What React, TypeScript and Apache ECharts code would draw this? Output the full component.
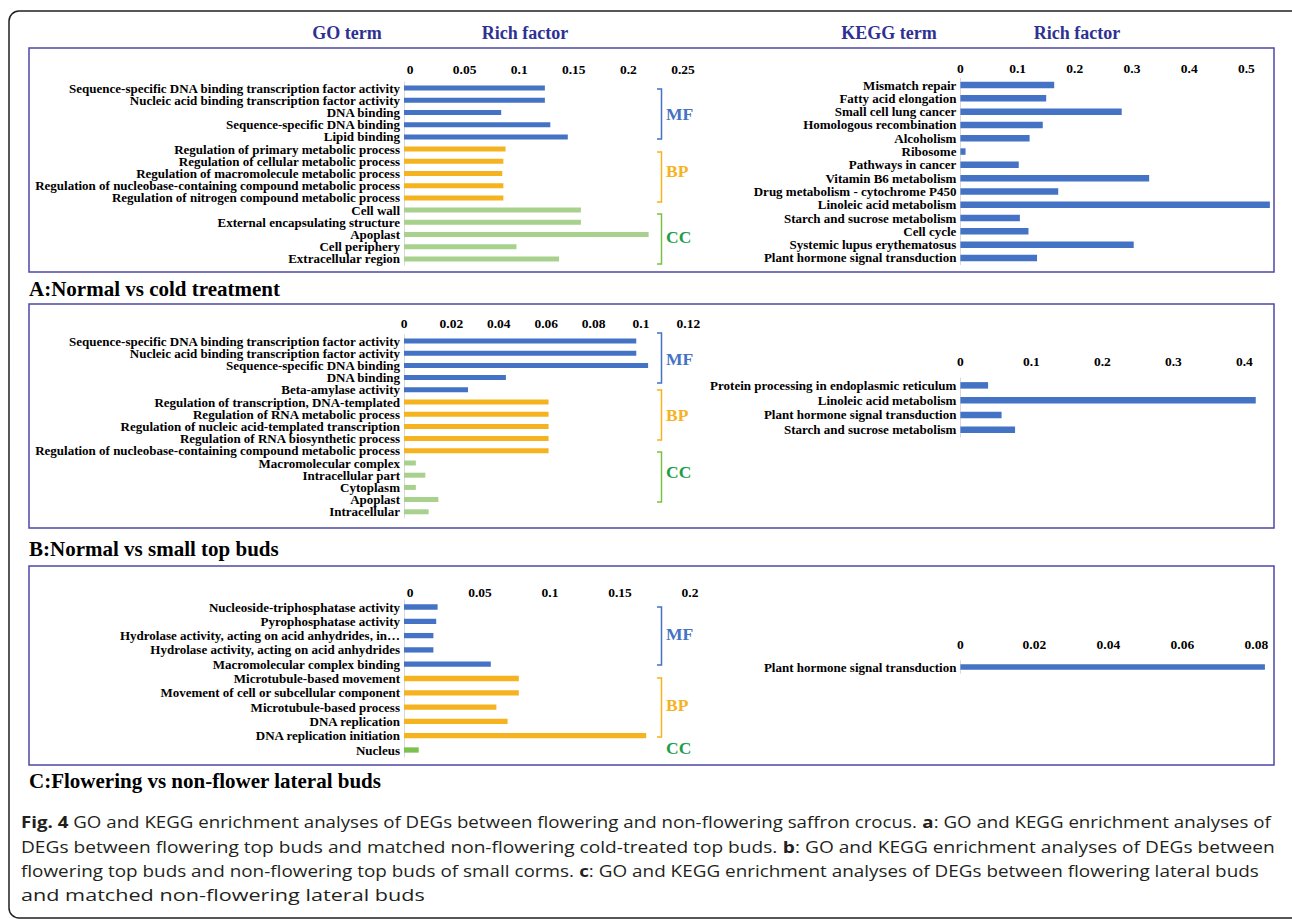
import React, { useEffect, useRef } from "react";
import * as echarts from "echarts";

const SERIF = '"Liberation Serif","Times New Roman",serif';
const SANS = '"Open Sans","Noto Sans",sans-serif';

// ---------------- DATA ----------------
// Panel A: Normal vs cold treatment
const goACategories = [
  "Sequence-specific DNA binding transcription factor activity",
  "Nucleic acid binding transcription factor activity",
  "DNA binding",
  "Sequence-specific DNA binding",
  "Lipid binding",
  "Regulation of primary metabolic process",
  "Regulation of cellular metabolic process",
  "Regulation of macromolecule metabolic process",
  "Regulation of nucleobase-containing compound metabolic process",
  "Regulation of nitrogen compound metabolic process",
  "Cell wall",
  "External encapsulating structure",
  "Apoplast",
  "Cell periphery",
  "Extracellular region",
];
const goAValues = [0.129, 0.129, 0.089, 0.134, 0.15, 0.093, 0.091, 0.09, 0.091, 0.091, 0.162, 0.162, 0.224, 0.103, 0.142];
const goAGroups = ["MF", "MF", "MF", "MF", "MF", "BP", "BP", "BP", "BP", "BP", "CC", "CC", "CC", "CC", "CC"];
const goATicks = [0, 0.05, 0.1, 0.15, 0.2, 0.25];

const keggACategories = [
  "Mismatch repair",
  "Fatty acid elongation",
  "Small cell lung cancer",
  "Homologous recombination",
  "Alcoholism",
  "Ribosome",
  "Pathways in cancer",
  "Vitamin B6 metabolism",
  "Drug metabolism - cytochrome P450",
  "Linoleic acid metabolism",
  "Starch and sucrose metabolism",
  "Cell cycle",
  "Systemic lupus erythematosus",
  "Plant hormone signal transduction",
];
const keggAValues = [0.164, 0.15, 0.282, 0.144, 0.121, 0.009, 0.102, 0.33, 0.171, 0.541, 0.104, 0.119, 0.303, 0.134];
const keggATicks = [0, 0.1, 0.2, 0.3, 0.4, 0.5];

// Panel B: Normal vs small top buds
const goBCategories = [
  "Sequence-specific DNA binding transcription factor activity",
  "Nucleic acid binding transcription factor activity",
  "Sequence-specific DNA binding",
  "DNA binding",
  "Beta-amylase activity",
  "Regulation of transcription, DNA-templated",
  "Regulation of RNA metabolic process",
  "Regulation of nucleic acid-templated transcription",
  "Regulation of RNA biosynthetic process",
  "Regulation of nucleobase-containing compound metabolic process",
  "Macromolecular complex",
  "Intracellular part",
  "Cytoplasm",
  "Apoplast",
  "Intracellular",
];
const goBValues = [0.098, 0.098, 0.103, 0.043, 0.027, 0.061, 0.061, 0.061, 0.061, 0.061, 0.005, 0.009, 0.005, 0.0145, 0.0104];
const goBGroups = ["MF", "MF", "MF", "MF", "MF", "BP", "BP", "BP", "BP", "BP", "CC", "CC", "CC", "CC", "CC"];
const goBTicks = [0, 0.02, 0.04, 0.06, 0.08, 0.1, 0.12];

const keggBCategories = [
  "Protein processing in endoplasmic reticulum",
  "Linoleic acid metabolism",
  "Plant hormone signal transduction",
  "Starch and sucrose metabolism",
];
const keggBValues = [0.039, 0.416, 0.058, 0.077];
const keggBTicks = [0, 0.1, 0.2, 0.3, 0.4];

// Panel C: Flowering vs non-flower lateral buds
const goCCategories = [
  "Nucleoside-triphosphatase activity",
  "Pyrophosphatase activity",
  "Hydrolase activity, acting on acid anhydrides, in…",
  "Hydrolase activity, acting on acid anhydrides",
  "Macromolecular complex binding",
  "Microtubule-based movement",
  "Movement of cell or subcellular component",
  "Microtubule-based process",
  "DNA replication",
  "DNA replication initiation",
  "Nucleus",
];
const goCValues = [0.024, 0.023, 0.021, 0.021, 0.062, 0.082, 0.082, 0.066, 0.074, 0.173, 0.0105];
const goCGroups = ["MF", "MF", "MF", "MF", "MF", "BP", "BP", "BP", "BP", "BP", "CC"];
const goCTicks = [0, 0.05, 0.1, 0.15, 0.2];

const keggCCategories = ["Plant hormone signal transduction"];
const keggCValues = [0.0823];
const keggCTicks = [0, 0.02, 0.04, 0.06, 0.08];

const panelTitles = [
  "A:Normal vs cold treatment",
  "B:Normal vs small top buds",
  "C:Flowering vs non-flower lateral buds",
];

const captionLines: [string, boolean][][] = [
  [
    ["Fig. 4", true],
    [" GO and KEGG enrichment analyses of DEGs between flowering and non-flowering saffron crocus. ", false],
    ["a", true],
    [": GO and KEGG enrichment analyses of", false],
  ],
  [
    ["DEGs between flowering top buds and matched non-flowering cold-treated top buds. ", false],
    ["b", true],
    [": GO and KEGG enrichment analyses of DEGs between", false],
  ],
  [
    ["flowering top buds and non-flowering top buds of small corms. ", false],
    ["c", true],
    [": GO and KEGG enrichment analyses of DEGs between flowering lateral buds", false],
  ],
  [["and matched non-flowering lateral buds", false]],
];

// ---------------- STYLE / LAYOUT ----------------
const BLUE = "#4472C4";
const GOLD = "#F5B31F";
const LGREEN = "#A9D18E";
const BRIGHT_GREEN = "#7CC150";
const NAVY = "#2E3192";
const BOX = "#4E48A5";

type Layout = {
  left: number; top: number; width: number; height: number; max: number;
  barWidth: number; margin: number; shift: number; lineHeight: number;
};
const LAYOUT: Record<string, Layout> = {
  goA: { left: 404, top: 82, width: 273, height: 183, max: 0.25, barWidth: 5, margin: 5.5, shift: 6, lineHeight: 12 },
  keggA: { left: 960.4, top: 78.4, width: 314.6, height: 186.2, max: 0.55, barWidth: 6.5, margin: 2.5, shift: 0, lineHeight: 13 },
  goB: { left: 404, top: 334.9, width: 284.4, height: 183, max: 0.12, barWidth: 5, margin: 4, shift: 0, lineHeight: 12 },
  keggB: { left: 960.4, top: 378, width: 305.3, height: 59, max: 0.43, barWidth: 6.5, margin: 9.5, shift: 0, lineHeight: 14 },
  goC: { left: 404, top: 599.85, width: 280, height: 157.3, max: 0.2, barWidth: 5.3, margin: 0, shift: 6, lineHeight: 14 },
  keggC: { left: 960.4, top: 660.7, width: 314.5, height: 12.6, max: 0.085, barWidth: 5.5, margin: 9, shift: 0, lineHeight: 12 },
};

function measure(text: string, font: string) {
  const ctx = document.createElement("canvas").getContext("2d")!;
  ctx.font = font;
  return ctx.measureText(text).width;
}

export default function App() {
  const ref = useRef<HTMLDivElement>(null);
  useEffect(() => {
    const chart = echarts.init(ref.current!, null, { renderer: "svg" });

    const panels = [
      { key: "goA", cats: goACategories, vals: goAValues, groups: goAGroups, ticks: goATicks, cc: LGREEN },
      { key: "keggA", cats: keggACategories, vals: keggAValues, groups: null, ticks: keggATicks, cc: LGREEN },
      { key: "goB", cats: goBCategories, vals: goBValues, groups: goBGroups, ticks: goBTicks, cc: LGREEN },
      { key: "keggB", cats: keggBCategories, vals: keggBValues, groups: null, ticks: keggBTicks, cc: LGREEN },
      { key: "goC", cats: goCCategories, vals: goCValues, groups: goCGroups, ticks: goCTicks, cc: BRIGHT_GREEN },
      { key: "keggC", cats: keggCCategories, vals: keggCValues, groups: null, ticks: keggCTicks, cc: LGREEN },
    ];

    const grid: any[] = [];
    const xAxis: any[] = [];
    const yAxis: any[] = [];
    const series: any[] = [];
    panels.forEach((p, i) => {
      const l = LAYOUT[p.key];
      grid.push({ left: l.left, top: l.top, width: l.width, height: l.height, containLabel: false, outerBoundsMode: "none" });
      const ticks = p.ticks;
      xAxis.push({
        gridIndex: i,
        type: "value",
        position: "top",
        min: 0,
        max: l.max,
        interval: ticks[1] - ticks[0],
        axisLine: { show: false },
        axisTick: { show: false },
        splitLine: { show: false },
        axisLabel: {
          margin: l.margin,
          fontFamily: SERIF,
          fontWeight: "bold",
          fontSize: 13.5,
          color: "#000",
          padding: [0, 0, 0, l.shift * 2],
          showMaxLabel: ticks.some((t) => Math.abs(t - l.max) < 1e-9),
          formatter: (v: number) =>
            ticks.some((t) => Math.abs(t - v) < 1e-9) ? String(Number(v.toFixed(4))) : "",
        },
      });
      yAxis.push({
        gridIndex: i,
        type: "category",
        inverse: true,
        data: p.cats,
        axisLine: { show: true, lineStyle: { color: "#D9D9D9", width: 1 } },
        axisTick: { show: false },
        axisLabel: {
          interval: 0,
          margin: 4,
          fontFamily: SERIF,
          fontWeight: "bold",
          fontSize: 13,
          lineHeight: l.lineHeight,
          color: "#000",
        },
      });
      const colorOf = (g: string | null) =>
        g === "BP" ? GOLD : g === "CC" ? p.cc : BLUE;
      series.push({
        type: "bar",
        xAxisIndex: i,
        yAxisIndex: i,
        barWidth: l.barWidth,
        silent: true,
        data: p.vals.map((v, j) => ({
          value: v,
          itemStyle: { color: colorOf(p.groups ? p.groups[j] : null) },
        })),
      });
    });

    const graphic: any[] = [];
    // outer frame
    graphic.push({
      type: "rect",
      shape: { x: 9, y: 11, width: 1292, height: 907, r: 10 },
      style: { fill: "none", stroke: "#231F20", lineWidth: 1.5 },
      silent: true,
    });
    // header titles
    const header = (text: string, x: number) => ({
      type: "text",
      style: {
        text, x, y: 33, fill: NAVY, fontFamily: SERIF, fontWeight: "bold", fontSize: 18,
        align: "center", verticalAlign: "middle",
      },
    });
    graphic.push(header("GO term", 347), header("Rich factor", 525), header("KEGG term", 889), header("Rich factor", 1077));
    // panel boxes
    const boxes = [
      [48, 272],
      [304, 528],
      [566, 765],
    ];
    boxes.forEach(([y1, y2]) =>
      graphic.push({
        type: "rect",
        shape: { x: 29, y: y1, width: 1245, height: y2 - y1 },
        style: { fill: "none", stroke: BOX, lineWidth: 1.5 },
        silent: true,
      })
    );
    // panel titles
    [289, 549, 781].forEach((y, i) =>
      graphic.push({
        type: "text",
        style: {
          text: panelTitles[i], x: 29, y, fill: "#000", fontFamily: SERIF, fontWeight: "bold", fontSize: 21,
          align: "left", verticalAlign: "middle",
        },
      })
    );
    // brackets
    const brackets: [string, number, number, number, string, string][] = [
      ["MF", 89, 139, 114, BLUE, BLUE],
      ["BP", 152, 202, 171, GOLD, GOLD],
      ["CC", 214, 264, 237, "#7AC143", "#1E9E48"],
      ["MF", 333, 383, 359, BLUE, BLUE],
      ["BP", 390, 440, 415, GOLD, GOLD],
      ["CC", 452, 502, 472, "#7AC143", "#1E9E48"],
      ["MF", 607, 665, 634, BLUE, BLUE],
      ["BP", 678, 737, 705, GOLD, GOLD],
      ["CC", -1, -1, 748, "#7AC143", "#1E9E48"],
    ];
    const bx = 661.5;
    brackets.forEach(([label, y1, y2, ty, lc, tc]) => {
      if (y1 > 0) {
        graphic.push({
          type: "polyline",
          shape: { points: [[bx - 4.5, y1], [bx, y1], [bx, y2], [bx - 4.5, y2]] },
          style: { stroke: lc, lineWidth: 1.5, fill: "none" },
          silent: true,
        });
      }
      graphic.push({
        type: "text",
        style: {
          text: label, x: 666, y: ty, fill: tc, fontFamily: SERIF, fontWeight: "bold", fontSize: 17.5,
          align: "left", verticalAlign: "middle",
        },
      });
    });
    // caption
    const capFont = 16;
    const capTargets = [1250, 1254, 1238, 404];
    const capY = [822, 847, 871, 895];
    captionLines.forEach((segs, i) => {
      let w = 0;
      segs.forEach(([t, b]) => {
        w += measure(t, `${b ? 700 : 400} ${capFont}px ${SANS}`);
      });
      const sx = w > 0 ? capTargets[i] / w : 1;
      const text = segs.map(([t, b]) => (b ? `{b|${t}}` : `{n|${t}}`)).join("");
      graphic.push({
        type: "text",
        x: 21,
        y: capY[i],
        scaleX: sx,
        originX: 0,
        originY: 0,
        style: {
          text,
          x: 0,
          y: 0,
          fill: "#231F20",
          fontFamily: SANS,
          fontSize: capFont,
          align: "left",
          verticalAlign: "middle",
          rich: {
            b: { fontFamily: SANS, fontSize: capFont, fontWeight: "bold", fill: "#231F20" },
            n: { fontFamily: SANS, fontSize: capFont, fontWeight: "normal", fill: "#231F20" },
          },
        },
      });
    });

    chart.setOption({
      animation: false,
      backgroundColor: "#fff",
      grid,
      xAxis,
      yAxis,
      series,
      graphic,
    });
    return () => chart.dispose();
  }, []);
  return (
    <div
      ref={ref}
      style={{ position: "fixed", left: 0, top: 0, width: 1292, height: 919, background: "#fff" }}
    />
  );
}
